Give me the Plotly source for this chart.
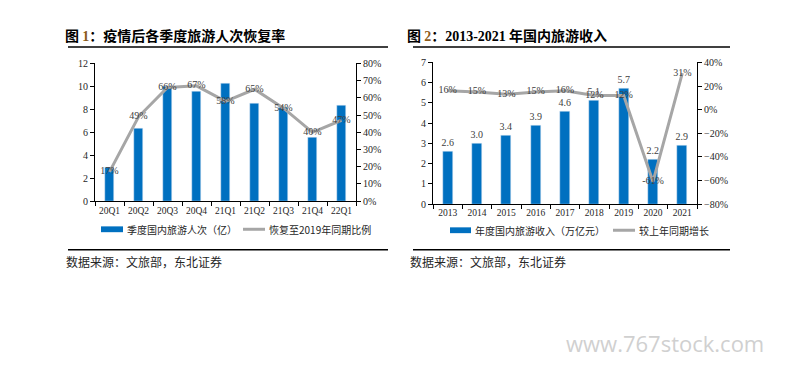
import plotly.graph_objects as go

W, H = 787, 365

# ---- data ----
quarters = ["20Q1", "20Q2", "20Q3", "20Q4", "21Q1", "21Q2", "21Q3", "21Q4", "22Q1"]
trips = [2.95, 6.36, 10.0, 9.53, 10.29, 8.52, 8.21, 5.55, 8.33]
recovery = [17, 49, 66, 67, 58, 65, 54, 40, 47]

years = ["2013", "2014", "2015", "2016", "2017", "2018", "2019", "2020", "2021"]
revenue = [2.6, 3.0, 3.4, 3.9, 4.6, 5.1, 5.7, 2.2, 2.9]
growth = [16, 15, 13, 15, 16, 12, 12, -61, 31]

title1 = "疫情后各季度旅游人次恢复率"
title2_num = "2013-2021"
title2 = " 年国内旅游收入"
leg1a, leg1b = "季度国内旅游人次（亿）", "恢复至2019年同期比例"
leg2a, leg2b = "年度国内旅游收入（万亿元）", "较上年同期增长"
source = "数据来源：文旅部，东北证券"

BLUE = "#0070C0"
GRAY = "#A6A6A6"
SERIF = "Liberation Serif, Times New Roman, serif"
CJK = "Noto Sans CJK SC"
TXT = "#262626"
OFF = 7  # offset correction for left-anchored CJK annotations

def px(x):
    return x / W

def py(y):
    return 1 - y / H

fig = go.Figure()

fig.add_trace(go.Bar(x=quarters, y=trips, marker_color=BLUE, width=0.33,
                     xaxis="x", yaxis="y", showlegend=False))
fig.add_trace(go.Scatter(x=quarters, y=recovery, mode="lines+text",
                         text=[f"{v}%" for v in recovery], textposition="middle center",
                         textfont=dict(family=SERIF, size=10, color="#404040"),
                         line=dict(color=GRAY, width=3), xaxis="x", yaxis="y2",
                         showlegend=False, cliponaxis=False))

fig.add_trace(go.Bar(x=years, y=revenue, marker_color=BLUE, width=0.34,
                     text=[f"{v:.1f}" for v in revenue], textposition="outside",
                     constraintext="none",
                     outsidetextfont=dict(family=SERIF, size=10, color="#404040"),
                     cliponaxis=False, xaxis="x2", yaxis="y3", showlegend=False))
fig.add_trace(go.Scatter(x=years, y=growth, mode="lines+text",
                         text=[f"{v}%" for v in growth], textposition="middle center",
                         textfont=dict(family=SERIF, size=10, color="#404040"),
                         line=dict(color=GRAY, width=3), xaxis="x2", yaxis="y4",
                         showlegend=False, cliponaxis=False))

tickfont = dict(family=SERIF, size=10, color=TXT)
axis_common = dict(showgrid=False, zeroline=False, showline=True, linecolor="black",
                   linewidth=1, ticks="outside", ticklen=4, tickcolor="black",
                   tickfont=tickfont, fixedrange=True)

fig.update_layout(
    width=W, height=H, margin=dict(l=0, r=0, t=0, b=0),
    paper_bgcolor="white", plot_bgcolor="white", bargap=0,
    xaxis=dict(domain=[px(87), px(348)], anchor="y", tickson="boundaries",
               range=[-0.5, 8.5], tickangle=0, **axis_common),
    yaxis=dict(domain=[py(194), py(52)], anchor="x", range=[0, 12], dtick=2,
               **axis_common),
    yaxis2=dict(overlaying="y", side="right", anchor="x", range=[0, 80], dtick=10,
                ticksuffix="%", **axis_common),
    xaxis2=dict(domain=[px(425), px(689)], anchor="y3", tickson="boundaries",
                range=[-0.5, 8.5], tickangle=0, **axis_common),
    yaxis3=dict(domain=[py(197), py(51)], anchor="x2", range=[0, 7], dtick=1,
                **axis_common),
    yaxis4=dict(overlaying="y3", side="right", anchor="x2", range=[-80, 40], dtick=20,
                ticksuffix="%", **axis_common),
)
fig.update_xaxes(tickfont=dict(family=SERIF, size=9.5, color=TXT))

shapes = []
annotations = []

def hline(x0, x1, y, w=1.5):
    shapes.append(dict(type="line", xref="paper", yref="paper", x0=px(x0), x1=px(x1),
                       y0=py(y), y1=py(y), line=dict(color="black", width=w)))

# title rules and bottom rules
hline(60, 380, 35)
hline(405, 722, 35)
hline(60, 380, 244)
hline(405, 722, 244)

# titles
annotations.append(dict(xref="paper", yref="paper", x=px(62 - OFF), y=py(23), xanchor="left",
                        yanchor="middle", showarrow=False,
                        text="<b>图 </b><b><span style='color:#8B5A1A;font-family:Liberation Serif'>1</span>：" + title1 + "</b>",
                        font=dict(family=CJK, size=14, color="black")))
annotations.append(dict(xref="paper", yref="paper", x=px(404 - OFF), y=py(23), xanchor="left",
                        yanchor="middle", showarrow=False,
                        text="<b>图 </b><b><span style='color:#8B5A1A;font-family:Liberation Serif'>2</span>：<span style='font-family:Liberation Serif'>" + title2_num + "</span>" + title2 + "</b>",
                        font=dict(family=CJK, size=14, color="black")))

# legends
def legend_item(x0, x1, y, kind, label):
    if kind == "bar":
        shapes.append(dict(type="rect", xref="paper", yref="paper", x0=px(x0), x1=px(x1),
                           y0=py(y + 3), y1=py(y - 3), fillcolor=BLUE, line=dict(width=0)))
    else:
        shapes.append(dict(type="line", xref="paper", yref="paper", x0=px(x0), x1=px(x1),
                           y0=py(y), y1=py(y), line=dict(color=GRAY, width=3)))
    annotations.append(dict(xref="paper", yref="paper", x=px(x1 + 2), y=py(y),
                            xanchor="left", yanchor="middle", showarrow=False, text=label,
                            font=dict(family=CJK, size=10, color=TXT)))

legend_item(93, 115, 223, "bar", leg1a)
legend_item(235, 257, 223, "line", leg1b)
legend_item(442, 463, 224, "bar", leg2a)
legend_item(605, 627, 224, "line", leg2b)

# sources
for x0 in (63, 407):
    annotations.append(dict(xref="paper", yref="paper", x=px(x0 - OFF), y=py(256),
                            xanchor="left", yanchor="middle", showarrow=False, text=source,
                            font=dict(family=CJK, size=12, color=TXT)))

# watermark
annotations.append(dict(xref="paper", yref="paper", x=px(556), y=py(340), xanchor="left",
                        yanchor="middle", showarrow=False, text="www.767stock.com",
                        font=dict(family="Open Sans", size=22, color="#D0D0D0")))

fig.update_layout(shapes=shapes, annotations=annotations)

fig.write_html("out.html")
